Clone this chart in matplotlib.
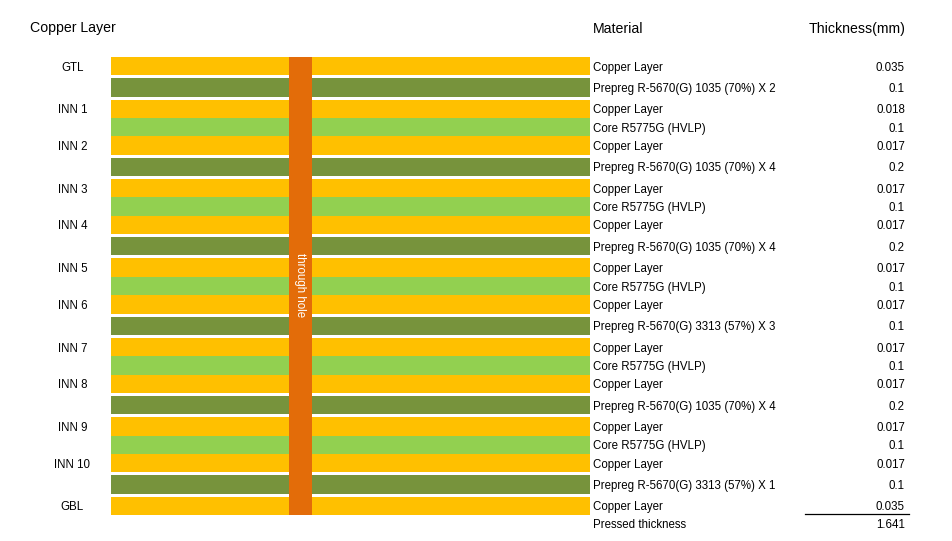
import matplotlib
matplotlib.use("Agg")
import matplotlib.pyplot as plt

# Stackup data (top to bottom)
layer_names = ["GTL", "", "INN 1", "", "INN 2", "", "INN 3", "", "INN 4", "", "INN 5", "",
               "INN 6", "", "INN 7", "", "INN 8", "", "INN 9", "", "INN 10", "", "GBL"]
layer_types = ["cu", "pp", "cu", "core", "cu", "pp", "cu", "core", "cu", "pp", "cu", "core",
               "cu", "pp", "cu", "core", "cu", "pp", "cu", "core", "cu", "pp", "cu"]
materials = ["Copper Layer", "Prepreg R-5670(G) 1035 (70%) X 2", "Copper Layer", "Core R5775G (HVLP)",
             "Copper Layer", "Prepreg R-5670(G) 1035 (70%) X 4", "Copper Layer", "Core R5775G (HVLP)",
             "Copper Layer", "Prepreg R-5670(G) 1035 (70%) X 4", "Copper Layer", "Core R5775G (HVLP)",
             "Copper Layer", "Prepreg R-5670(G) 3313 (57%) X 3", "Copper Layer", "Core R5775G (HVLP)",
             "Copper Layer", "Prepreg R-5670(G) 1035 (70%) X 4", "Copper Layer", "Core R5775G (HVLP)",
             "Copper Layer", "Prepreg R-5670(G) 3313 (57%) X 1", "Copper Layer"]
thickness = [0.035, 0.1, 0.018, 0.1, 0.017, 0.2, 0.017, 0.1, 0.017, 0.2, 0.017, 0.1,
             0.017, 0.1, 0.017, 0.1, 0.017, 0.2, 0.017, 0.1, 0.017, 0.1, 0.035]

colors = {"cu": "#FFC000", "pp": "#77933C", "core": "#92D050"}
HOLE_COLOR = "#E36C09"

# layout (pixels)
W, H = 953, 541
TOP = 57
ROW_H = 18.35
GAP = 3
BAR_X0, BAR_X1 = 111, 590
HOLE_X, HOLE_W = 300.5, 23
LABEL_X = 72.5
MAT_X = 593
VAL_X = 905
TXT_DY = 1.5  # va=center sits a bit high, push text down

plt.rcParams["font.family"] = ["Liberation Sans", "DejaVu Sans"]

fig = plt.figure(figsize=(W / 100, H / 100), dpi=100)
ax = fig.add_axes([0, 0, 1, 1])
ax.set_xlim(0, W)
ax.set_ylim(H, 0)
ax.axis("off")

# row positions: white gaps around prepreg layers
y = TOP
tops = []
for t in layer_types:
    if t == "pp":
        y += GAP
    tops.append(y)
    y += ROW_H
    if t == "pp":
        y += GAP
bottom = y

for i, t in enumerate(layer_types):
    yc = tops[i] + ROW_H / 2
    ax.barh(yc, BAR_X1 - BAR_X0, left=BAR_X0, height=ROW_H, color=colors[t], linewidth=0, zorder=1)
    if layer_names[i]:
        ax.text(LABEL_X, yc + TXT_DY, layer_names[i], ha="center", va="center", fontsize=8.3)
    ax.text(MAT_X, yc + TXT_DY, materials[i], ha="left", va="center", fontsize=8.3)
    ax.text(VAL_X, yc + TXT_DY, f"{thickness[i]:g}", ha="right", va="center", fontsize=8.3)

# through hole
ax.bar(HOLE_X, bottom - TOP, bottom=TOP, width=HOLE_W, color=HOLE_COLOR, linewidth=0, zorder=2)
ax.text(HOLE_X, (TOP + bottom) / 2 - 1, "through hole", rotation=-90, ha="center", va="center",
        color="white", fontsize=8.3, zorder=3)

# headers
ax.text(30, 28, "Copper Layer", ha="left", va="center", fontsize=10.2)
ax.text(MAT_X, 29, "Material", ha="left", va="center", fontsize=10.2)
ax.text(VAL_X + 1, 29, "Thickness(mm)", ha="right", va="center", fontsize=10.2)

# total
total = sum(thickness)
ax.plot([805, 909], [bottom - 1, bottom - 1], color="black", linewidth=0.9)
ax.text(MAT_X, bottom + 9.5, "Pressed thickness", ha="left", va="center", fontsize=8.3)
ax.text(VAL_X, bottom + 9.5, f"{total:.3f}", ha="right", va="center", fontsize=8.3)

fig.savefig("out.png", dpi=100)
